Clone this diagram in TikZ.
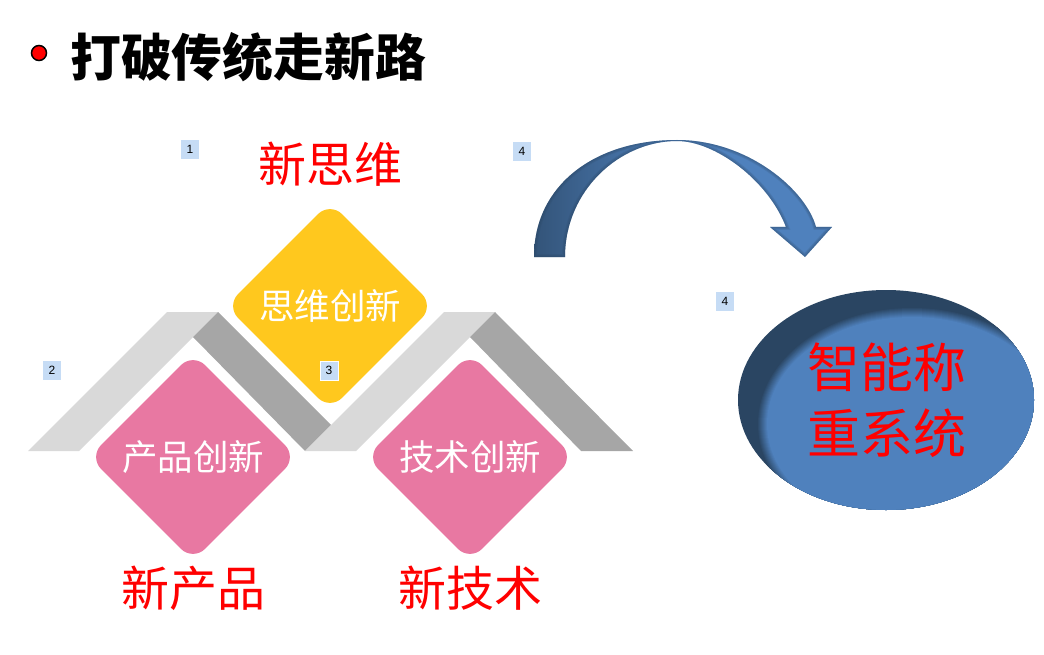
\documentclass[tikz,border=0pt]{standalone}
\usepackage{fontspec}
\usetikzlibrary{positioning, shapes.geometric}
\setmainfont{Noto Sans CJK SC}
\setsansfont{Liberation Sans}
\definecolor{colour_yellow}{HTML}{FFC81E}
\definecolor{colour_pink}{HTML}{E878A2}
\definecolor{colour_light}{HTML}{D9D9D9}
\definecolor{colour_dark}{HTML}{A6A6A6}
\definecolor{colour_blue}{HTML}{4F81BD}
\definecolor{colour_shadow}{HTML}{2A4562}
\definecolor{colour_tag}{HTML}{C6DCF5}
\newcommand{\arcpath}{(534,257) .. controls (534,185) and (595,140) .. (677,140) .. controls (748,140) and (806,190) .. (816,227) -- (832,227) -- (805,257) -- (770,227) -- (786,227) .. controls (768,180) and (715,141) .. (677,141) .. controls (620,141) and (565,190) .. (565,257) -- cycle}

\begin{document}
\begin{tikzpicture}[
    x=1pt, y=-1pt,
    tile/.style={diamond, minimum width=208pt, minimum height=208pt, inner sep=0pt,
                 rounded corners=17pt, text=white, font=\fontsize{35.5}{40}\selectfont},
    redlabel/.style={text=red, inner sep=0pt, font=\fontsize{48}{56}\selectfont},
    tag/.style={fill=colour_tag, minimum width=18pt, minimum height=19pt, inner sep=0pt,
                font=\sffamily\fontsize{12}{13}\selectfont}
]
\useasboundingbox (0,0) rectangle (1044,655);

% Title
\node[circle, draw=black, line width=1.5pt, fill=red, minimum size=15pt, inner sep=0pt] (bullet) at (39,53) {};
\node[anchor=west, inner sep=0pt, font=\fontsize{50.8}{60}\selectfont\bfseries] (title) at (70,57) {打破传统走新路};

% Grey chevrons
\fill[colour_light] (28,451) -- (79,451) -- (193,337) -- (218,312) -- (167,312) -- cycle;
\fill[colour_dark] (218,312) -- (331,425) -- (305,451) -- (193,337) -- cycle;
\fill[colour_light] (305,451) -- (356,451) -- (470,337) -- (495,312) -- (444,312) -- cycle;
\fill[colour_dark] (495,312) -- (633,451) -- (581,451) -- (470,337) -- cycle;

% Tiles and their labels
\node[tile, fill=colour_yellow] (thinking) at (330,306) {思维创新};
\node[tile, fill=colour_pink] (product) at (193,457) {产品创新};
\node[tile, fill=colour_pink] (technology) at (470,457) {技术创新};
\node[redlabel, above=15pt of thinking] (newthinking) {新思维};
\node[redlabel, below=5pt of product] (newproduct) {新产品};
\node[redlabel, below=5pt of technology] (newtechnology) {新技术};

% Curved arrow
\begin{scope}
\clip \arcpath;
\shade[left color=colour_shadow!75!colour_blue, right color=colour_blue] (534,140) rectangle (680,257);
\fill[colour_blue] (680,140) rectangle (832,257);
\foreach \w in {2,4,6}
    \draw[colour_shadow, line width=\w pt, opacity=0.16] \arcpath;
\end{scope}

% Ellipse with inner shadow
\begin{scope}
\clip (886,400) ellipse [x radius=148, y radius=110];
\fill[colour_shadow] (738,290) rectangle (1034,510);
\foreach \i in {0,...,10}
    \fill[colour_blue!\the\numexpr\i*10\relax!colour_shadow] (912,424) ellipse [x radius=155-\i, y radius=117-\i];
\end{scope}
\node[text=red, align=center, inner sep=0pt, font=\fontsize{53}{66}\selectfont] (scale) at (887,400) {智能称\\重系统};

% Small tags
\node[tag] (tag1) at (190,149.5) {1};
\node[tag] (tag2) at (52,370.5) {2};
\node[tag, draw=white] (tag3) at (329,370.5) {3};
\node[tag] (tag4) at (522,151.5) {4};
\node[tag] (tag5) at (725,301.5) {4};

\end{tikzpicture}
\end{document}
